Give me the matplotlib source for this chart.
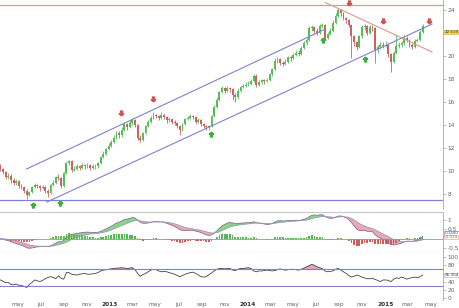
import numpy as np
import pandas as pd
import matplotlib
matplotlib.use('Agg')
import matplotlib.pyplot as plt
import matplotlib.dates as mdates
from matplotlib.path import Path

# weekly candles, first one closing 2012-03-16
first_open = 10.4
closes = [10.2, 9.9, 9.5, 9.6, 9.2, 9.0, 9.1, 8.7, 8.6, 8.3,
          7.9, 8.2, 8.6, 8.8, 8.7, 8.5, 8.6, 8.3, 8.1, 8.8,
          9.0, 9.5, 9.4, 8.7, 9.8, 10.7, 10.9, 10.1, 10.2, 10.4,
          10.3, 10.5, 10.4, 10.5, 10.3, 10.4, 10.4, 10.7, 11.2, 11.5,
          11.9, 12.2, 12.5, 12.9, 13.3, 13.1, 13.6, 14.1, 13.8, 14.2,
          14.4, 14.0, 12.9, 12.7, 13.3, 13.9, 14.3, 14.6, 14.9, 14.8,
          14.6, 14.9, 14.7, 14.4, 14.5, 14.3, 14.2, 13.9, 13.6, 14.1,
          14.5, 14.6, 14.8, 14.7, 14.3, 14.4, 14.1, 13.9, 13.8, 13.9,
          14.8, 15.6, 16.2, 16.9, 17.2, 17.0, 17.2, 17.1, 16.6, 16.4,
          17.0, 17.3, 17.4, 17.5, 17.6, 17.8, 18.3, 17.5, 17.7, 17.9,
          17.8, 17.9, 18.4, 18.9, 19.6, 19.7, 19.4, 19.3, 19.5, 19.9,
          19.8, 20.1, 20.3, 20.2, 20.7, 21.1, 21.4, 22.4, 22.5, 22.2,
          22.0, 22.6, 22.7, 21.6, 21.9, 22.2, 22.9, 23.5, 24.0, 23.7,
          23.3, 23.1, 22.7, 21.7, 21.2, 20.8, 21.7, 22.5, 22.6, 22.0,
          22.5, 22.4, 20.5, 20.8, 21.0, 20.9, 21.0, 20.2, 19.5, 20.3,
          20.9, 21.0, 21.1, 21.6, 21.4, 21.0, 20.8, 21.3, 21.4, 22.1,
          22.6]
highs = [10.6, 10.3, 10.0, 9.8, 9.7, 9.4, 9.3, 9.2, 8.9, 8.7,
         8.4, 8.3, 8.7, 9.0, 8.9, 8.8, 8.8, 8.7, 8.4, 8.9,
         9.2, 9.6, 9.7, 9.5, 9.9, 10.8, 11.0, 11.0, 10.4, 10.6,
         10.5, 10.7, 10.6, 10.7, 10.6, 10.6, 10.6, 10.8, 11.3, 11.7,
         12.0, 12.4, 12.7, 13.1, 13.5, 13.5, 13.8, 14.3, 14.2, 14.4,
         14.6, 14.5, 14.1, 13.1, 13.4, 14.0, 14.4, 14.8, 15.1, 15.0,
         14.9, 15.1, 15.0, 14.8, 14.7, 14.6, 14.4, 14.3, 14.0, 14.2,
         14.6, 14.8, 15.0, 14.9, 14.8, 14.6, 14.5, 14.2, 14.0, 14.0,
         14.9, 15.7, 16.4, 17.0, 17.4, 17.3, 17.4, 17.3, 17.2, 16.8,
         17.1, 17.4, 17.6, 17.7, 17.8, 18.0, 18.4, 18.4, 17.9, 18.0,
         18.0, 18.1, 18.5, 19.0, 19.8, 19.9, 19.8, 19.6, 19.7, 20.0,
         20.0, 20.3, 20.5, 20.5, 20.9, 21.3, 21.6, 22.6, 22.7, 22.6,
         22.4, 22.8, 22.9, 22.8, 22.1, 22.4, 23.1, 23.7, 24.2, 24.1,
         23.8, 23.4, 23.2, 22.8, 21.8, 21.3, 21.8, 22.7, 22.8, 22.7,
         22.7, 22.7, 22.5, 21.0, 21.2, 21.2, 21.3, 21.1, 20.3, 20.4,
         21.8, 21.2, 21.3, 21.8, 21.7, 21.5, 21.1, 21.5, 21.6, 22.3,
         22.8]
lows = [10.0, 9.7, 9.3, 9.3, 9.0, 8.8, 8.8, 8.5, 8.4, 8.1,
        7.6, 7.8, 8.1, 8.5, 8.5, 8.3, 8.4, 8.1, 7.7, 8.0,
        8.7, 8.9, 9.2, 8.5, 8.6, 9.7, 10.5, 9.9, 10.0, 10.1,
        10.1, 10.2, 10.2, 10.3, 10.1, 10.2, 10.2, 10.3, 10.6, 11.1,
        11.4, 11.8, 12.1, 12.4, 12.8, 12.9, 13.0, 13.5, 13.6, 13.7,
        14.0, 13.8, 12.7, 12.5, 12.6, 13.2, 13.8, 14.2, 14.5, 14.6,
        14.4, 14.5, 14.5, 14.2, 14.3, 14.1, 14.0, 13.7, 13.1, 13.5,
        14.0, 14.4, 14.5, 14.5, 14.1, 14.2, 13.9, 13.7, 13.6, 13.6,
        13.8, 14.7, 15.5, 16.1, 16.8, 16.8, 16.9, 16.9, 16.2, 16.0,
        16.3, 16.9, 17.2, 17.3, 17.4, 17.5, 17.7, 17.3, 17.4, 17.6,
        17.6, 17.7, 17.8, 18.3, 18.8, 19.4, 19.2, 19.1, 19.2, 19.4,
        19.6, 19.7, 20.0, 20.0, 20.1, 20.6, 21.0, 21.3, 22.2, 22.0,
        21.8, 21.9, 22.4, 21.4, 21.5, 21.8, 22.1, 22.8, 23.4, 23.5,
        23.1, 22.9, 22.5, 19.8, 20.9, 20.5, 20.7, 21.6, 22.3, 21.8,
        21.9, 22.2, 19.4, 20.3, 20.6, 20.7, 20.8, 19.9, 18.6, 19.4,
        20.2, 20.7, 20.8, 21.0, 21.2, 20.8, 20.6, 20.7, 21.2, 21.3,
        22.0]
rsi = [44, 41, 37, 38, 33, 32, 34, 31, 31, 28,
       26, 33, 38, 44, 42, 40, 43, 47, 50, 52,
       50, 47, 54, 48, 46, 62, 62, 58, 57, 56,
       58, 59, 60, 58, 58, 59, 60, 62, 66, 68,
       69, 70, 71, 72, 73, 73, 74, 73, 72, 73,
       74, 69, 60, 53, 57, 60, 64, 68, 70, 69,
       66, 64, 65, 64, 62, 60, 58, 55, 52, 55,
       58, 60, 62, 63, 60, 56, 52, 51, 52, 57,
       61, 66, 70, 72, 72, 71, 72, 72, 68, 67,
       70, 72, 72, 73, 74, 72, 66, 64, 66, 66,
       67, 68, 67, 66, 67, 69, 71, 69, 68, 69,
       70, 70, 69, 68, 70, 73, 76, 79, 82, 80,
       76, 74, 72, 66, 64, 65, 66, 70, 72, 68,
       64, 60, 55, 51, 53, 56, 54, 51, 49, 47,
       47, 48, 45, 43, 40, 44, 44, 43, 40, 46,
       49, 48, 51, 49, 46, 48, 50, 51, 49, 52,
       56]

tick_dates = ['2012-05-01', '2012-07-01', '2012-09-01', '2012-11-01',
              '2013-01-01', '2013-03-01', '2013-05-01', '2013-07-01',
              '2013-09-01', '2013-11-01', '2014-01-01', '2014-03-01',
              '2014-05-01', '2014-07-01', '2014-09-01', '2014-11-01',
              '2015-01-01', '2015-03-01', '2015-05-01']
tick_labels = ['may', 'jul', 'sep', 'nov', '2013', 'mar', 'may', 'jul',
               'sep', 'nov', '2014', 'mar', 'may', 'jul', 'sep', 'nov',
               '2015', 'mar', 'may']

# drawn trend lines: (dates, prices)
upper_channel = (['2012-05-24', '2014-07-23'], [10.17, 22.3])
lower_channel = (['2012-07-17', '2015-05-05'], [7.3, 22.78])
down_trend = (['2014-07-26', '2015-05-05'], [24.65, 20.35])
top_level = 24.43
bottom_level = 7.45

sell_dates = ['2013-01-30', '2013-04-25', '2014-09-27', '2014-12-27', '2015-04-28']
sell_prices = [15.04, 16.26, 24.6, 23.04, 23.04]
buy_dates = ['2012-06-11', '2012-08-21', '2013-09-25', '2014-07-20', '2014-11-09']
buy_prices = [7.04, 7.2, 13.2, 21.4, 19.7]

last_label = '22.639'
macd_label, signal_label = '0.1440', '-0.024'
rsi_label = '56.354'

GREEN = '#56bd56'
RED = '#cc6262'
BLUE = '#8080d4'
PINK = '#e39393'
GREY = '#666666'

dates = pd.date_range('2012-03-16', periods=len(closes), freq='7D')
x = mdates.date2num(dates)
c = np.array(closes)
o = np.array([first_open] + closes[:-1])
colors = np.where(c >= o, GREEN, RED)

# macd 12/26/9 on weekly closes
s = pd.Series(closes)
macd = (s.ewm(span=12, adjust=False).mean() - s.ewm(span=26, adjust=False).mean()).values
signal = pd.Series(macd).ewm(span=9, adjust=False).mean().values
hist = macd - signal

fig = plt.figure(figsize=(4.6, 3.08), dpi=100)
W = 443 / 460
ax1 = fig.add_axes([0, 1 - 209 / 308, W, 209 / 308])
ax2 = fig.add_axes([0, 1 - 253 / 308, W, 41 / 308])
ax3 = fig.add_axes([0, 1 - 300 / 308, W, 47 / 308])

xlim = mdates.date2num(pd.to_datetime(['2012-03-15', '2015-06-03']))
for ax in (ax1, ax2, ax3):
    ax.set_xlim(xlim)
    for sp in ax.spines.values():
        sp.set_visible(False)
    ax.spines['right'].set_visible(True)
    ax.spines['right'].set_color('#aaaaaa')
    ax.spines['right'].set_linewidth(0.6)
    ax.yaxis.tick_right()
    ax.tick_params(axis='y', length=2, width=0.5, color='#aaaaaa',
                   labelsize=4.2, labelcolor=GREY, pad=1.5)
    ax.set_xticks([])

# ---- price panel
ax1.set_ylim(6.70, 24.87)
ax1.vlines(x, lows, highs, colors=colors, lw=0.6)
ax1.bar(x, np.maximum(np.abs(c - o), 0.06), bottom=np.minimum(o, c),
        width=5, color=colors, linewidth=0)
for line, col in ((upper_channel, BLUE), (lower_channel, BLUE), (down_trend, PINK)):
    ax1.plot(mdates.date2num(pd.to_datetime(line[0])), line[1], color=col, lw=0.8)
ax1.axhline(top_level, color=PINK, lw=0.9)
ax1.axhline(bottom_level, color=BLUE, lw=0.9)

up_arrow = Path([(0, 1), (-0.9, 0.1), (-0.4, 0.1), (-0.4, -1), (0.4, -1),
                 (0.4, 0.1), (0.9, 0.1), (0, 1)])
down_arrow = Path([(vx, -vy) for vx, vy in up_arrow.vertices])
ax1.plot(mdates.date2num(pd.to_datetime(sell_dates)), sell_prices, ls='',
         marker=down_arrow, ms=3.6, color='#d05555', clip_on=False)
ax1.plot(mdates.date2num(pd.to_datetime(buy_dates)), buy_prices, ls='',
         marker=up_arrow, ms=3.6, color='#3fae3f', clip_on=False)

ax1.set_yticks([8, 10, 12, 14, 16, 18, 20, 24])
ax1.text(1.003, 22.1, last_label, transform=ax1.get_yaxis_transform(),
         fontsize=3.0, va='center', ha='left', color='#333333',
         bbox=dict(boxstyle='square,pad=0.08', fc='#f2da4a', ec='#c9b23a', lw=0.4))

# ---- macd panel
ax2.set_ylim(-0.766, 1.43)
for side in ('top', 'bottom'):
    ax2.spines[side].set_visible(True)
    ax2.spines[side].set_color('#c8c8c8')
ax2.fill_between(x, macd, signal, where=macd >= signal, interpolate=True,
                 color='#5fc85f', alpha=0.75, lw=0)
ax2.fill_between(x, macd, signal, where=macd < signal, interpolate=True,
                 color='#d9707f', alpha=0.6, lw=0)
ax2.plot(x, macd, color='#8a6f9a', lw=0.6)
ax2.plot(x, signal, color='#9a9ab8', lw=0.6)
ax2.bar(x, hist, width=4.5, color=np.where(hist >= 0, '#55b855', '#cf5d5d'), lw=0)
ax2.axhline(0, color='#9090c8', lw=0.6)
ax2.set_yticks([1, 0.5, -0.5])
ax2.set_yticklabels(['1', '0.5', '-0.5'])
tr2 = ax2.get_yaxis_transform()
ax2.text(1.003, 0.29, macd_label, transform=tr2, fontsize=3.0, va='center',
         color='#4d4dc0', bbox=dict(boxstyle='square,pad=0.06', fc='white', ec='#8080d4', lw=0.4))
ax2.text(1.003, 0.09, signal_label, transform=tr2, fontsize=3.0, va='center',
         color='#cc4d4d', bbox=dict(boxstyle='square,pad=0.06', fc='white', ec='#e39393', lw=0.4))

# ---- rsi panel
ax3.set_ylim(-4.9, 109.8)
r = np.array(rsi, dtype=float)
ax3.fill_between(x, r, 70, where=r > 70, interpolate=True, color='#c8607a', alpha=0.55, lw=0)
ax3.fill_between(x, r, 30, where=r < 30, interpolate=True, color='#5fc85f', alpha=0.55, lw=0)
ax3.plot(x, r, color='#444444', lw=0.6)
ax3.axhline(70, color=BLUE, lw=0.8)
ax3.axhline(30, color=BLUE, lw=0.8)
ax3.set_yticks([0, 20, 40, 80, 100])
ax3.text(1.003, 56.354, rsi_label, transform=ax3.get_yaxis_transform(), fontsize=3.0,
         va='center', color='#333333',
         bbox=dict(boxstyle='square,pad=0.08', fc='white', ec='#aaaaaa', lw=0.4))

ax3.set_xticks(mdates.date2num(pd.to_datetime(tick_dates)))
ax3.set_xticklabels(tick_labels)
ax3.tick_params(axis='x', length=0, labelsize=4.2, labelcolor=GREY, pad=1.5)
for lab in ax3.get_xticklabels():
    if lab.get_text().isdigit():
        lab.set_fontweight('bold')
        lab.set_color('#333333')

fig.savefig('out.png', dpi=100)
